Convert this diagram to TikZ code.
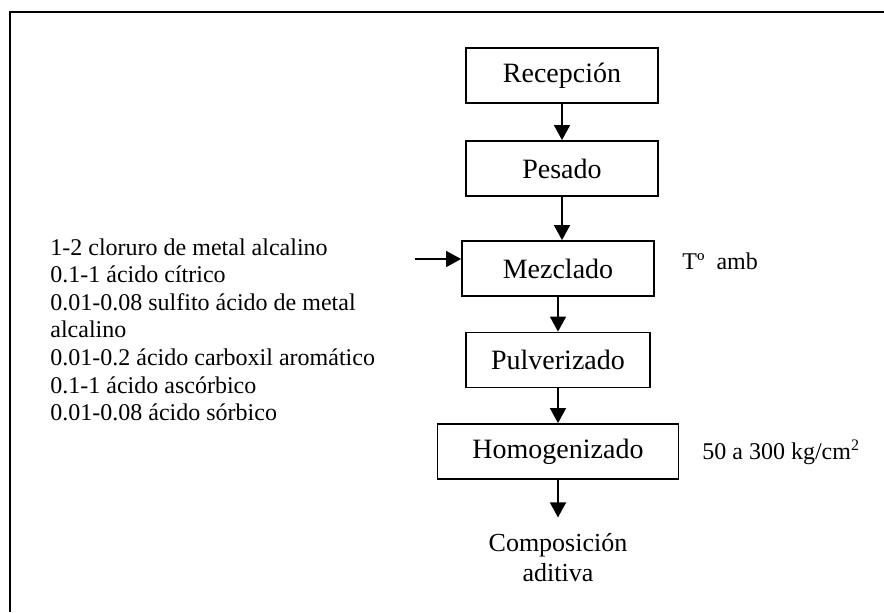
\documentclass[tikz,border=0pt]{standalone}
\usepackage{fontspec}
\setmainfont{Liberation Serif}
\usetikzlibrary{arrows.meta}

\begin{document}
\begin{tikzpicture}[x=0.5pt, y=-0.5pt,
        font=\fontsize{12}{13.8}\selectfont,
        etapa/.style={draw, line width=0.9pt, minimum height=27.5pt,
            inner sep=0pt, font=\fontsize{14}{16.8}\selectfont},
        flecha/.style={line width=0.75pt, -{Triangle[length=7.5pt, width=8pt]}}]
    \useasboundingbox (0,0) rectangle (884,612);
    % Marco
    \draw[line width=1.2pt] (10,612) -- (10,12) -- (884,12);
    % Etapas del proceso
    \foreach \nombre/\texto/\xc/\yc/\ancho in {
        recepcion/Recepción/562/75.5/96pt,
        pesado/Pesado/562/168.5/96pt,
        mezclado/Mezclado/558/268.5/96pt,
        pulverizado/Pulverizado/558/360/92pt,
        homogenizado/Homogenizado/558/451.5/120.5pt}{
        \node[etapa, minimum width=\ancho] (\nombre) at (\xc,\yc) {\texto};
    }
    % Producto final
    \node[align=center, inner ysep=8pt, font=\fontsize{13}{15}\selectfont]
        (producto) at (558,558) {Composición\\aditiva};
    % Flechas del proceso
    \draw[flecha] (recepcion) -- (pesado);
    \draw[flecha] (pesado.south) -- (pesado.south |- mezclado.north);
    \draw[flecha] (mezclado) -- (pulverizado);
    \draw[flecha] (pulverizado) -- (homogenizado);
    \draw[flecha] (homogenizado) -- (producto);
    % Aditivos
    \node[anchor=north west, inner sep=0pt, align=left] (aditivos) at (50,238) {
        1-2 cloruro de metal alcalino\\
        0.1-1 ácido cítrico\\
        0.01-0.08 sulfito ácido de metal\\
        alcalino\\
        0.01-0.2 ácido carboxil aromático\\
        0.1-1 ácido ascórbico\\
        0.01-0.08 ácido sórbico};
    \coordinate (entrada) at (415,259);
    \draw[flecha] (entrada) -- (entrada -| mezclado.west);
    % Condiciones
    \node[anchor=base west, inner sep=0pt] (temperatura) at (682,269) {Tº~~amb};
    \node[anchor=base west, inner sep=0pt] (presion) at (702,459)
        {50 a 300 kg/cm\textsuperscript{2}};
\end{tikzpicture}
\end{document}
